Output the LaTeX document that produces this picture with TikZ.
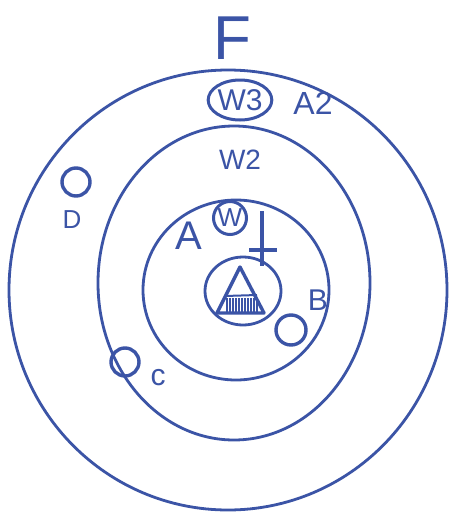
\documentclass[tikz,border=0pt]{standalone}
\usepackage{fontspec}
\setmainfont{Liberation Sans}
\usetikzlibrary{shapes.geometric}
\definecolor{ink}{HTML}{3B54A6}
\tikzset{
  ring/.style={draw=ink, line width=2.8pt, ellipse, inner sep=0pt, minimum width=#1},
  lbl/.style={text=ink, inner sep=0pt},
  dotc/.style={draw=ink, line width=3.4pt, circle, inner sep=0pt, minimum size=#1},
}
\begin{document}
\begin{tikzpicture}[x=1pt,y=-1pt]
\fill[white] (0,0) rectangle (454,520);
\useasboundingbox (0,0) rectangle (454,520);
% rings
\node[ring=438pt, minimum height=440pt] (outer) at (228,290) {};
\node[ring=272pt, minimum height=314pt] (middle) at (234,283) {};
\node[ring=186pt, minimum height=180pt] (inner) at (236,290) {};
\node[ring=76pt, minimum height=68pt] (core) at (243,291) {};
% triangle with hatched base
\coordinate (apex) at (240,267);
\coordinate (bl) at (217,313);
\coordinate (br) at (264,313);
\draw[ink, line width=3.4pt, line join=round] (apex) -- (bl) -- (br) -- cycle;
\draw[ink, line width=2pt] (225,296) -- (257,295);
\foreach \x in {227,230,...,257} {\draw[ink, line width=1.2pt] (\x,298) -- (\x,312);}
% plus
\coordinate (pt) at (262,211);
\coordinate (pb) at (262,266);
\coordinate (pl) at (249,250);
\coordinate (pr) at (277,250);
\draw[ink, line width=3.4pt] (pt) -- (pb);
\draw[ink, line width=4pt] (pl) -- (pr);
% labels
\node[lbl, font=\fontsize{62}{62}\selectfont] (F) at (232,38) {F};
\node[draw=ink, line width=3pt, ellipse, minimum width=54pt, minimum height=40pt, inner sep=0pt, text=ink, font=\fontsize{30}{30}\selectfont] (W3) at (240,100) {W3};
\node[lbl, font=\fontsize{32}{32}\selectfont] (A2) at (313,103) {A2};
\node[lbl, font=\fontsize{28}{28}\selectfont] (W2) at (240,160) {W2};
\node[draw=ink, line width=3pt, circle, minimum size=33pt, inner sep=0pt, text=ink, font=\fontsize{26}{26}\selectfont] (W) at (230,218) {W};
\node[lbl, font=\fontsize{40}{40}\selectfont] (A) at (189,236) {A};
\node[lbl, font=\fontsize{30}{30}\selectfont] (B) at (318,300) {B};
\node[dotc=30pt] (Bc) at (291,330) {};
\node[dotc=28pt] (Cc) at (125,362) {};
\node[lbl, font=\fontsize{30}{30}\selectfont] (C) at (158,378) {c};
\node[dotc=28pt] (Dc) at (76,182) {};
\node[lbl, font=\fontsize{26}{26}\selectfont] (D) at (72,220) {D};
\end{tikzpicture}
\end{document}
